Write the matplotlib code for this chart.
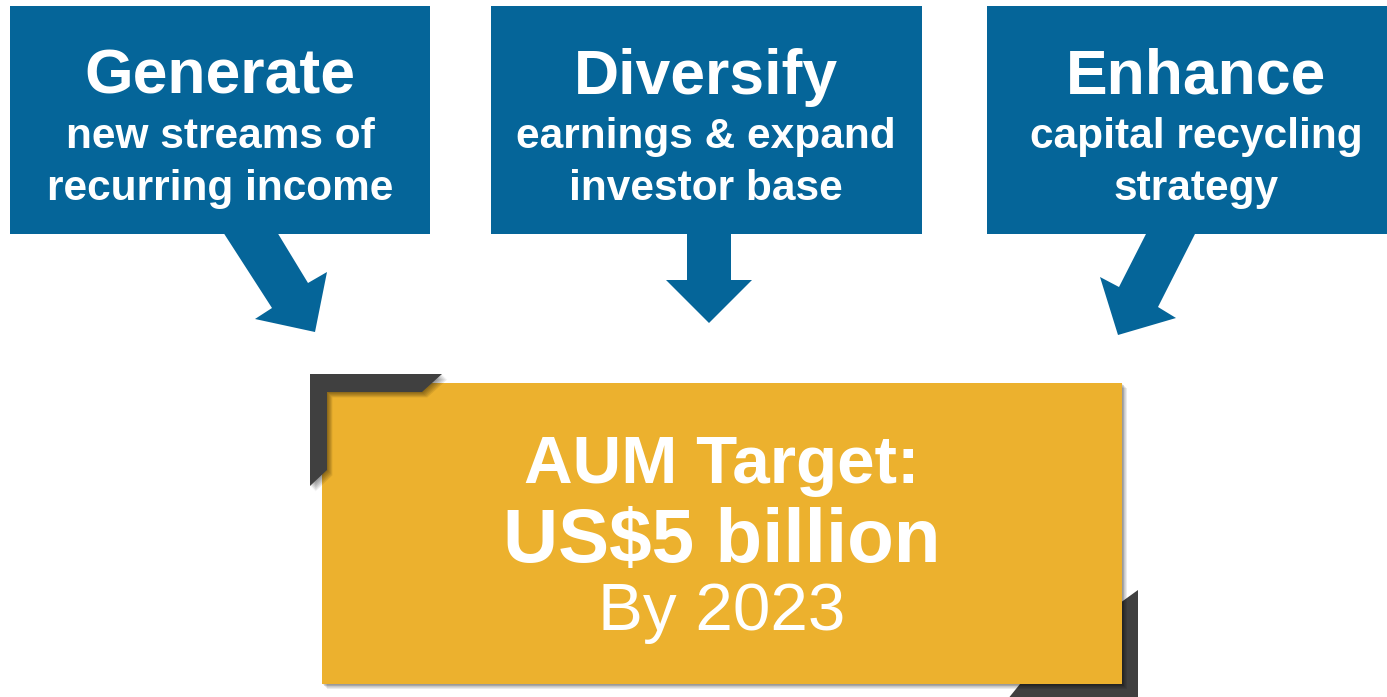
import matplotlib.pyplot as plt
from matplotlib.patches import Polygon, Rectangle

plt.rcParams['font.family'] = ['Liberation Sans', 'DejaVu Sans']

W, H = 1387, 697
BLUE = '#056599'
GOLD = '#ecb12e'
DARK = '#404040'

# three blue headline boxes
box_left = [10, 491, 987]
box_right = [430, 922, 1405]
box_top, box_bottom = 6, 234
text_x = [220, 706, 1196]
titles = ['Generate', 'Diversify', 'Enhance']
lines_1 = ['new streams of', 'earnings & expand', 'capital recycling']
lines_2 = ['recurring income', 'investor base', 'strategy']

# arrows from each box toward the target box
arrows = [
    [(223, 232), (277, 232), (308, 283), (327, 272), (315, 332), (255, 319), (272, 308)],
    [(687, 232), (731, 232), (731, 280), (752, 280), (709, 323), (666, 280), (687, 280)],
    [(1147, 232), (1196, 232), (1158, 307), (1176, 318), (1118, 335), (1100, 277), (1119, 287)],
]

# target box and its dark corner brackets
gold_box = (322, 383, 1122, 684)
corner_tl = [(310, 374), (442, 374), (422, 392), (327, 392), (327, 470), (310, 486)]
corner_br = [(1138, 590), (1138, 705), (1003, 705), (1020, 684), (1120, 684), (1120, 603)]
target_lines = ['AUM Target:', 'US$5 billion', 'By 2023']


def shadow(ax, pts, z, steps=6, dx=1.0, dy=1.2, a=0.07):
    for k in range(1, steps + 1):
        ax.add_patch(Polygon([(x + k * dx, y + k * dy) for x, y in pts],
                             closed=True, facecolor='black', edgecolor='none',
                             alpha=a, zorder=z))


fig = plt.figure(figsize=(W / 100, H / 100), dpi=100)
ax = fig.add_axes([0, 0, 1, 1])
ax.set_xlim(0, W)
ax.set_ylim(H, 0)
ax.axis('off')

for i in range(3):
    ax.add_patch(Rectangle((box_left[i], box_top), box_right[i] - box_left[i],
                           box_bottom - box_top, facecolor=BLUE, edgecolor='none', zorder=2))
    ax.add_patch(Polygon(arrows[i], closed=True, facecolor=BLUE, edgecolor='none', zorder=2))
    ax.text(text_x[i], 94, titles[i], ha='center', va='baseline', color='white',
            fontsize=45, fontweight='bold', zorder=3)
    ax.text(text_x[i], 148, lines_1[i], ha='center', va='baseline', color='white',
            fontsize=30.5, fontweight='bold', zorder=3)
    ax.text(text_x[i], 200, lines_2[i], ha='center', va='baseline', color='white',
            fontsize=30.5, fontweight='bold', zorder=3)

# bottom-right bracket sits under the gold box
ax.add_patch(Polygon(corner_br, closed=True, facecolor=DARK, edgecolor='none', zorder=4))

gx0, gy0, gx1, gy1 = gold_box
gold_pts = [(gx0, gy0), (gx1, gy0), (gx1, gy1), (gx0, gy1)]
shadow(ax, gold_pts, 5, steps=6, dx=0.8, dy=0.8, a=0.08)
ax.add_patch(Polygon(gold_pts, closed=True, facecolor=GOLD, edgecolor='none', zorder=6))

# top-left bracket sits over the gold box
shadow(ax, corner_tl, 7, steps=6, dx=0.9, dy=0.9, a=0.08)
ax.add_patch(Polygon(corner_tl, closed=True, facecolor=DARK, edgecolor='none', zorder=8))

cx = (gx0 + gx1) / 2
ax.text(cx, 483, target_lines[0], ha='center', va='baseline', color='white',
        fontsize=48.5, fontweight='bold', zorder=9)
ax.text(cx, 562, target_lines[1], ha='center', va='baseline', color='white',
        fontsize=55, fontweight='bold', zorder=9)
ax.text(cx, 630, target_lines[2], ha='center', va='baseline', color='white',
        fontsize=48.5, zorder=9)

fig.savefig('out.png', dpi=100, facecolor='white')
